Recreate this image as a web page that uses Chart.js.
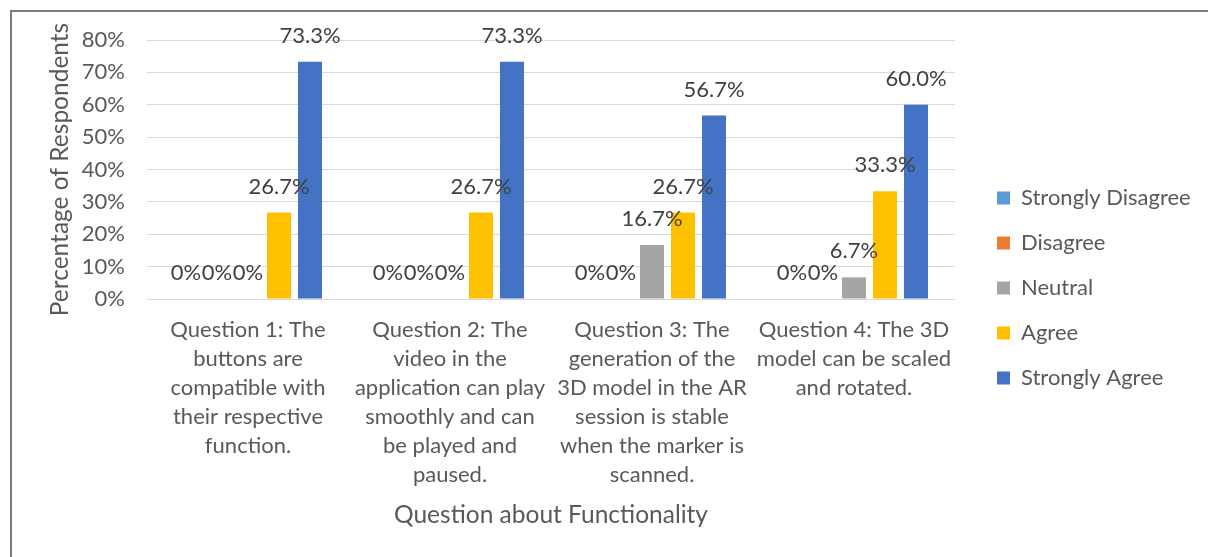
<!DOCTYPE html>
<html>
<head>
<meta charset="utf-8">
<script src="https://cdn.jsdelivr.net/npm/chart.js@4"></script>
<style>
  html, body { margin: 0; padding: 0; background: #ffffff; overflow: hidden; }
  #cadre { position: absolute; left: 10px; top: 10px; width: 1400px; height: 800px; border-left: 2px solid #7a7a7a; border-top: 2px solid #7a7a7a; }
  #chartFonctionnalite { position: absolute; left: 0; top: 0; }
</style>
</head>
<body>
<div id="cadre"></div>
<canvas id="chartFonctionnalite" width="1208" height="557"></canvas>
<script>
/*
  Graphe : pourcentage des répondants par question sur la fonctionnalité
*/
var categories = [
    ['Question 1: The', 'buttons are', 'compatible with', 'their respective', 'function.'],
    ['Question 2: The', 'video in the', 'application can play', 'smoothly and can', 'be played and', 'paused.'],
    ['Question 3: The', 'generation of the', '3D model in the AR', 'session is stable', 'when the marker is', 'scanned.'],
    ['Question 4: The 3D', 'model can be scaled', 'and rotated.']
];
var seriesNames = ['Strongly Disagree', 'Disagree', 'Neutral', 'Agree', 'Strongly Agree'];
var stronglyDisagree = [0, 0, 0, 0];
var disagree = [0, 0, 0, 0];
var neutral = [0, 0, 16.7, 6.7];
var agree = [26.7, 26.7, 26.7, 33.3];
var stronglyAgree = [73.3, 73.3, 56.7, 60.0];
var yTicks = [0, 10, 20, 30, 40, 50, 60, 70, 80];

var couleurs = ['#5B9BD5', '#ED7D31', '#A5A5A5', '#FFC000', '#4472C4'];
var police = 'Lato, "Open Sans", sans-serif';

var valeurs = [stronglyDisagree, disagree, neutral, agree, stronglyAgree];
var datasetsValue = [];
for (var i = 0; i < seriesNames.length; i++) {
    datasetsValue.push({
        label: seriesNames[i],
        data: valeurs[i],
        backgroundColor: couleurs[i],
        borderWidth: 0, //pas de bordure
        categoryPercentage: 0.767,
        barPercentage: 0.774
    });
}

// étiquettes de données au-dessus des barres (comme dans Excel)
const etiquettesPlugin = {
    id: 'etiquettes',
    afterDatasetsDraw(chart) {
        const ctx = chart.ctx;
        ctx.save();
        ctx.font = '22px ' + police;
        ctx.fillStyle = '#404040';
        ctx.textAlign = 'center';
        ctx.textBaseline = 'middle';
        chart.data.datasets.forEach(function (ds, d) {
            chart.getDatasetMeta(d).data.forEach(function (bar, j) {
                var v = ds.data[j];
                var txt = v === 0 ? '0%' : v.toFixed(1) + '%';
                ctx.fillText(txt, bar.x, bar.y - 26);
            });
        });
        ctx.restore();
    }
};

// on décale la légende pour laisser un espace avec la zone du graphe
const decalageLegende = {
    id: 'decalageLegende',
    afterLayout(chart) {
        const lg = chart.legend;
        lg.left += 19; lg.right += 19;
        lg.top += 3; lg.bottom += 3;
    }
};

const chartElem = document.getElementById('chartFonctionnalite').getContext('2d');
new Chart(chartElem, {
    type: 'bar',
    data: {
        labels: categories,
        datasets: datasetsValue
    },
    options: {
        responsive: false,
        animation: false,
        layout: { padding: { left: 45, top: 40, right: 0, bottom: 27 } },
        plugins: {
            legend: {
                display: true,
                position: 'right',
                labels: {
                    boxWidth: 13,
                    boxHeight: 13,
                    padding: 23,
                    color: '#595959',
                    font: { family: police, size: 22 }
                }
            },
            tooltip: { enabled: false }
        },
        scales: {
            y: {
                min: 0,
                max: 80,
                afterBuildTicks: function (s) { s.ticks = yTicks.map(function (v) { return { value: v }; }); },
                afterFit: function (s) { s.width = 102; },
                ticks: {
                    padding: 22,
                    color: '#595959',
                    font: { family: police, size: 22 },
                    callback: function (v) { return v + '%'; }
                },
                grid: { color: '#d9d9d9', lineWidth: 1, drawTicks: false },
                border: { display: false },
                title: {
                    display: true,
                    text: 'Percentage of Respondents',
                    color: '#595959',
                    font: { family: police, size: 24.5 },
                    padding: 0
                }
            },
            x: {
                afterFit: function (s) { s.height = 231; s.paddingRight = 253; },
                ticks: {
                    padding: 16,
                    color: '#595959',
                    maxRotation: 0,
                    font: { family: police, size: 22, lineHeight: 29 / 22 }
                },
                grid: { display: false, drawTicks: false },
                border: { display: false },
                title: {
                    display: true,
                    text: 'Question about Functionality',
                    color: '#595959',
                    font: { family: police, size: 24.5 },
                    padding: 0
                }
            }
        }
    },
    plugins: [etiquettesPlugin, decalageLegende]
});
</script>
</body>
</html>
